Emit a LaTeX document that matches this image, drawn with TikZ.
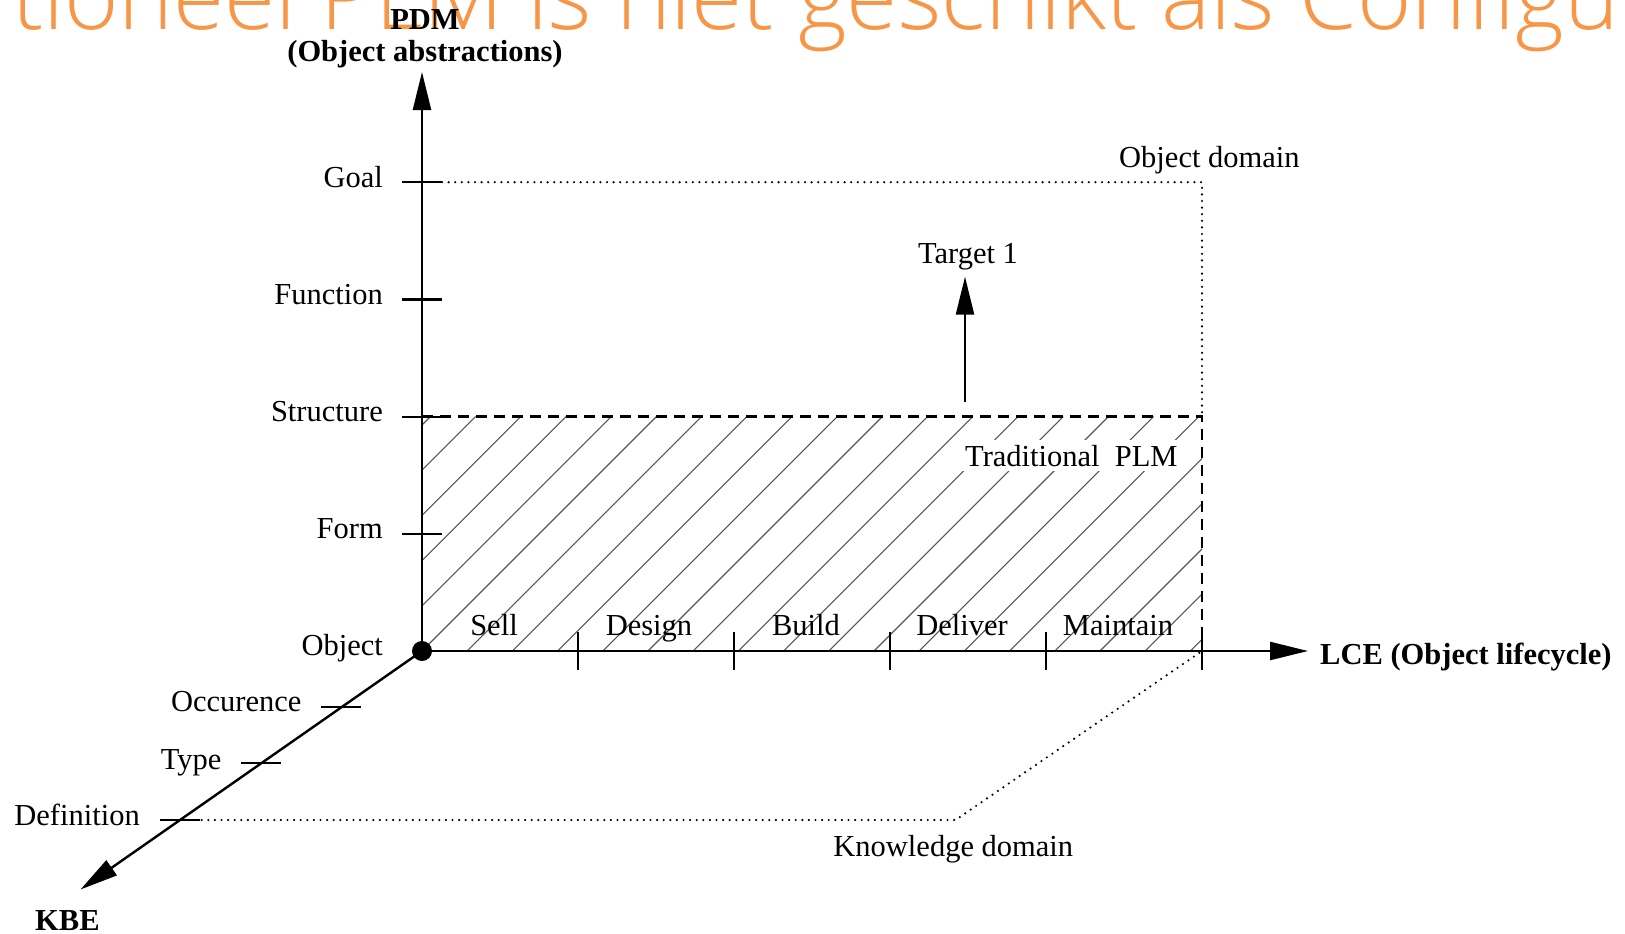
\documentclass[tikz,border=0pt]{standalone}
\usepackage{fontspec}
\setmainfont{Liberation Serif}
\IfFontExistsTF{Open Sans Light}{\newfontfamily\titlefont{Open Sans Light}}{\newfontfamily\titlefont{Open Sans}}
\usetikzlibrary{arrows.meta,calc}
\definecolor{titleorange}{RGB}{247,150,70}
\definecolor{hatchgray}{RGB}{85,85,85}
\begin{document}
\begin{tikzpicture}[x=1pt,y=-1pt,
  lbl/.style={font=\fontsize{30.5}{36}\selectfont, inner sep=0pt},
  blbl/.style={font=\fontsize{30.5}{36}\selectfont\bfseries, inner sep=0pt},
  axisarrow/.style={line width=2.4pt, -{Triangle[length=38pt,width=18pt]}},
  tickln/.style={line width=2.2pt},
  dotln/.style={line width=2.4pt, line cap=round, dash pattern=on 0pt off 6.6pt},
  dashln/.style={line width=2.4pt, dash pattern=on 11pt off 7pt},
  hatchln/.style={line width=1.1pt, hatchgray}]

\path[use as bounding box, clip] (0,0) rectangle (1625,934);
\fill[white] (0,0) rectangle (1625,934);

% title (cut off by the top edge)
\node[anchor=base west, inner sep=0pt, text=titleorange,
      font=\titlefont\fontsize{93}{104}\selectfont] (title) at (12,30)
      {tioneel PLM is niet geschikt als Configur};

% key coordinates
\coordinate (O) at (422,651);
\coordinate (Ytip) at (422,72);
\coordinate (Xtip) at (1308,651);
\coordinate (Ktip) at (80.5,889.5);
\coordinate (C) at (1202,651);
\coordinate (S) at (422,416.6);
\coordinate (SR) at (1202,416.6);
\coordinate (GL) at (442,182.2);
\coordinate (GR) at (1202,182.2);
\coordinate (DL) at (201.7,820);
\coordinate (KD) at (955.5,820);
\coordinate (Tbot) at (965,401.7);
\coordinate (Ttip) at (965,276.7);

% hatching
\begin{scope}
  \clip (422,416.6) rectangle (1202,651);
  \foreach \k in {0,...,23} {
    \draw[hatchln] ({847+45.2*\k-651},651) -- ({847+45.2*\k-416.6},416.6);
  }
\end{scope}

\node[lbl, fill=white, inner sep=5pt, anchor=base west] (trad) at (960,466) {Traditional\ \ PLM};

% dotted domain lines
\draw[dotln] (GL) -- (GR) -- (SR);
\draw[dotln] (DL) -- (KD) -- (C);

% dashed PLM boundary
\draw[dashln] (S) -- (SR) -- (C);

% axes
\draw[axisarrow] (O) -- (Ytip);
\draw[axisarrow] (O) -- (Xtip);
\draw[axisarrow] (O) -- (Ktip);
\node[circle, fill=black, minimum size=20pt, inner sep=0pt] (dot) at (O) {};

% vertical ticks and labels
\draw[tickln] (402,182.2) -- (442,182.2);
\draw[tickln] (402,299.4) -- (442,299.4);
\draw[tickln] (402,416.6) -- (442,416.6);
\draw[tickln] (402,533.8) -- (442,533.8);
\node[lbl, anchor=base east] (goal) at (383,187) {Goal};
\node[lbl, anchor=base east] (func) at (383,304) {Function};
\node[lbl, anchor=base east] (struc) at (383,421.3) {Structure};
\node[lbl, anchor=base east] (form) at (383,538.5) {Form};
\node[lbl, anchor=base east] (obj) at (383,655) {Object};

% horizontal ticks and labels
\foreach \x in {578,734,890,1046,1202} {
  \draw[tickln] (\x,632) -- (\x,670);
}
\node[lbl, anchor=base] (sell) at (494,635) {Sell};
\node[lbl, anchor=base] (design) at (649,635) {Design};
\node[lbl, anchor=base] (build) at (806,635) {Build};
\node[lbl, anchor=base] (deliver) at (962,635) {Deliver};
\node[lbl, anchor=base] (maint) at (1118,635) {Maintain};

% diagonal ticks and labels
\coordinate (P1) at ($(O)!0.236!(Ktip)$);
\coordinate (P2) at ($(O)!0.471!(Ktip)$);
\coordinate (P3) at ($(O)!0.7086!(Ktip)$);
\draw[tickln] ($(P1)+(-20,0)$) -- ($(P1)+(20,0)$);
\draw[tickln] ($(P2)+(-20,0)$) -- ($(P2)+(20,0)$);
\draw[tickln] ($(P3)+(-20,0)$) -- ($(P3)+(20,0)$);
\node[lbl, anchor=base east] (occ) at (301.7,711.7) {Occurence};
\node[lbl, anchor=base east] (type) at (221.7,769) {Type};
\node[lbl, anchor=base east] (defn) at (140,825) {Definition};

% target arrow
\draw[axisarrow] (Tbot) -- (Ttip);
\node[lbl, anchor=base] (target) at (968,263) {Target 1};

% axis titles
\node[blbl, anchor=base] (pdm) at (425,30) {PDM};
\node[blbl, anchor=base] (pdm2) at (425,61.5) {(Object abstractions)};
\node[blbl, anchor=base west] (lce) at (1320,664) {LCE (Object lifecycle)};
\node[blbl, anchor=base west] (kbe) at (35,930) {KBE};

% domain labels
\node[lbl, anchor=base west] (objdom) at (1119,167) {Object domain};
\node[lbl, anchor=base] (knowdom) at (953.3,856.7) {Knowledge domain};
\end{tikzpicture}
\end{document}
